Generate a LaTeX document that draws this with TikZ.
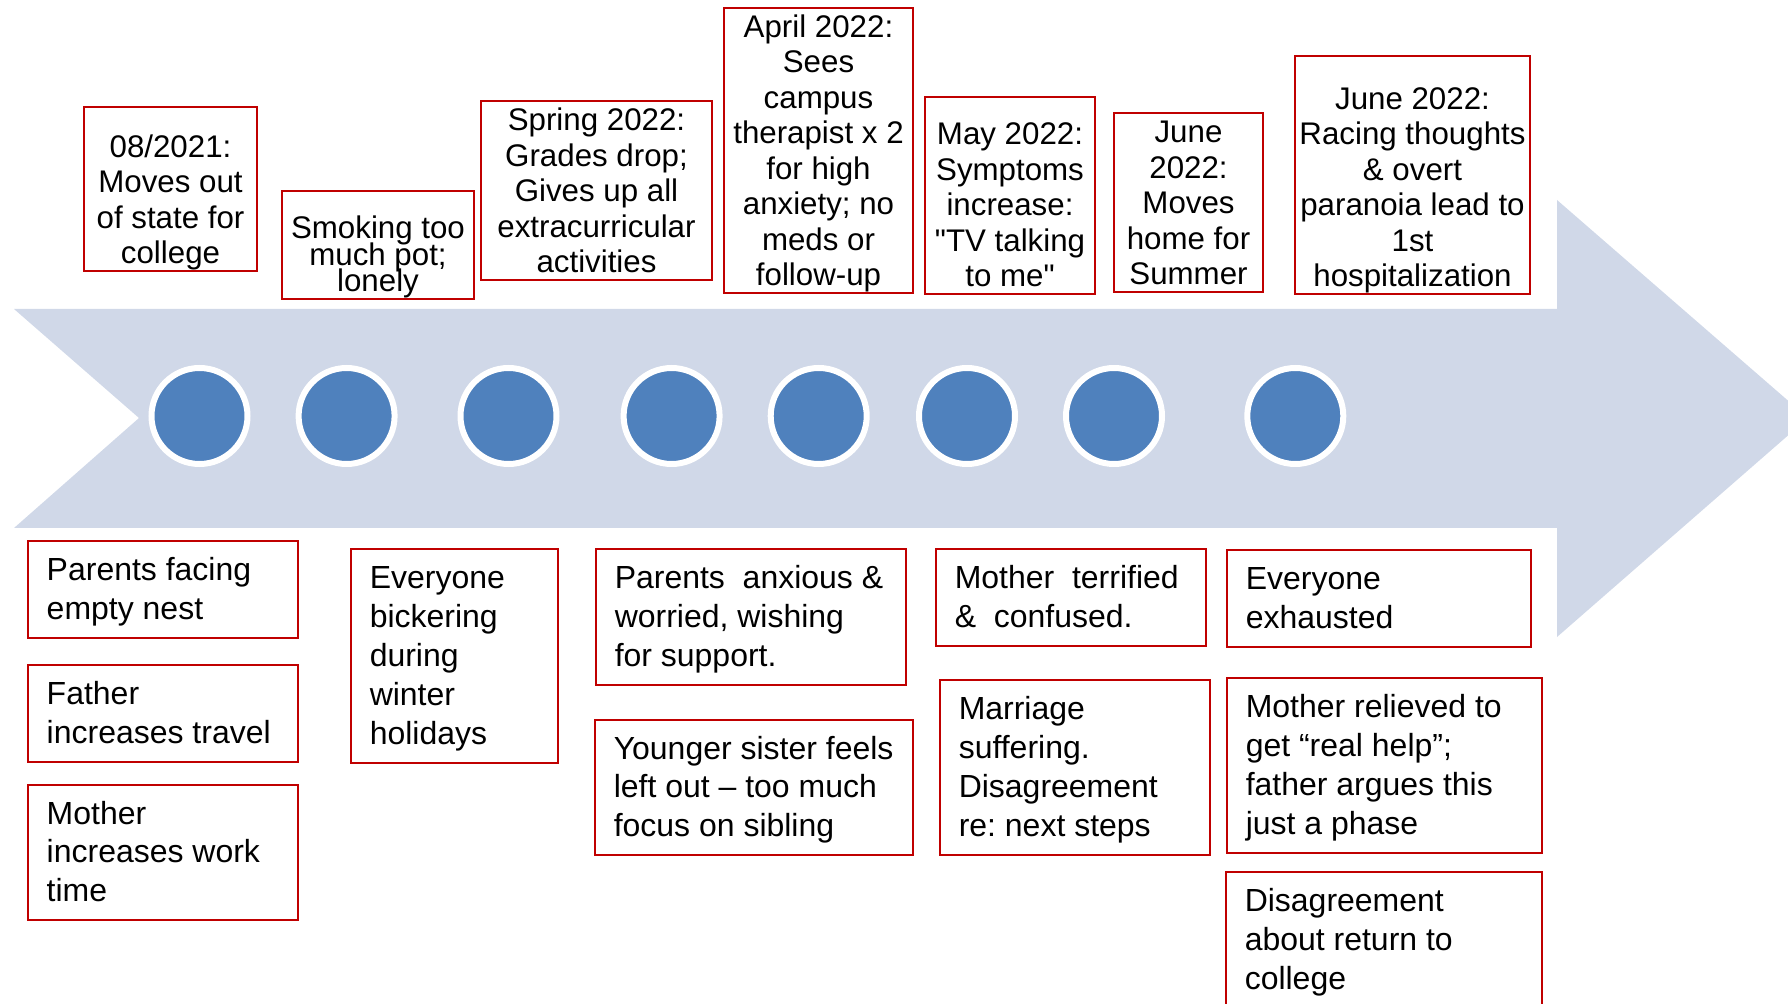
\documentclass[tikz,border=0pt]{standalone}
\usepackage{fontspec}
\setmainfont{Liberation Sans}
\frenchspacing
\definecolor{band}{HTML}{D0D8E8}
\definecolor{dotblue}{HTML}{4F81BD}
\definecolor{edge}{HTML}{C00000}

\begin{document}
\begin{tikzpicture}[x=0.1mm, y=-0.1mm,
  frame/.style={draw=edge, line width=0.25mm},
  evtext/.style={inner sep=0pt, outer sep=0pt, align=center, font={\fontsize{8.9}{10.1}\selectfont\lineskiplimit=-100pt}},
  fxtext/.style={inner sep=0pt, outer sep=0pt, align=left, font={\fontsize{9.1}{11.05}\selectfont\lineskiplimit=-100pt}},
  stopdot/.style={circle, fill=dotblue, draw=white, line width=0.6mm, minimum size=9.6mm, inner sep=0pt}]
\useasboundingbox (0,0) rectangle (1788,1004);
\newcommand{\upcard}[7]{% style, name, left, top, right, bottom, text (sits at the bottom)
  \pgfmathsetlengthmacro{\bw}{(#5-#3)*0.1mm}
  \pgfmathsetlengthmacro{\bh}{(#6-#4)*0.1mm}
  \node[frame, minimum width=\bw, minimum height=\bh] (#2) at ({(#3+#5)/2},{(#4+#6)/2}) {};
  \node[evtext, #1, anchor=south] (#2x) at (#2.south) {#7\rule[-0.27em]{0pt}{0pt}};}
\newcommand{\lowcard}[6]{% name, left, top, right, bottom, text (left, centred)
  \pgfmathsetlengthmacro{\bw}{(#4-#2)*0.1mm}
  \pgfmathsetlengthmacro{\bh}{(#5-#3)*0.1mm}
  \node[frame, minimum width=\bw, minimum height=\bh] (#1) at ({(#2+#4)/2},{(#3+#5)/2}) {};
  \node[fxtext, anchor=west] (#1x) at ([xshift=2mm, yshift=-0.2mm]#1.west) {\rule{0pt}{0.75em}#6\rule[-0.22em]{0pt}{0pt}};}
% the timeline arrow
\fill[band] (14,309) -- (1557,309) -- (1557,200) -- (1808,418) -- (1557,637) -- (1557,528) -- (14,528) -- (139,418) -- cycle;
\foreach \x [count=\i] in {199.5,346.6,508.5,671.6,818.7,967,1114,1295.3}
  \node[stopdot] (d\i) at (\x,416) {};
% events above
\upcard{}{t1}{84}{107}{257}{271}{08/2021:\\Moves out\\of state for\\college}
\upcard{font={\fontsize{8.9}{7.6}\selectfont\lineskiplimit=-100pt}}{t2}{282}{191}{474}{299}{Smoking too\\much pot;\\lonely}
\upcard{}{t3}{481}{101}{712}{280}{Spring 2022:\\Grades drop;\\Gives up all\\extracurricular\\activities}
\upcard{}{t4}{724}{8}{913}{293}{April 2022:\\Sees\\campus\\therapist x 2\\for high\\anxiety; no\\meds or\\follow-up}
\upcard{}{t5}{925}{97}{1095}{294}{May 2022:\\Symptoms\\increase:\\\textquotedbl TV talking\\to me\textquotedbl}
\upcard{}{t6}{1114}{113}{1263}{292}{June\\2022:\\Moves\\home for\\Summer}
\upcard{}{t7}{1295}{56}{1530}{294}{June 2022:\\Racing thoughts\\\& overt\\paranoia lead to\\1st\\hospitalization}
% family reactions below
\lowcard{b1}{28}{541}{298}{638}{Parents facing\\empty nest}
\lowcard{b2}{28}{665}{298}{762}{Father\\increases travel}
\lowcard{b3}{28}{785}{298}{920}{Mother\\increases work\\time}
\lowcard{b4}{351}{549}{558}{763}{Everyone\\bickering\\during\\winter\\holidays}
\lowcard{b5}{596}{549}{906}{685}{Parents\ \ anxious \&\\worried, wishing\\for support.}
\lowcard{b6}{595}{720}{913}{855}{Younger sister feels\\left out – too much\\focus on sibling}
\lowcard{b7}{936}{549}{1206}{646}{Mother\ \ terrified\\\&\ \ confused.}
\lowcard{b8}{940}{680}{1210}{855}{Marriage\\suffering.\\Disagreement\\re: next steps}
\lowcard{b9}{1227}{550}{1531}{647}{Everyone\\exhausted}
\lowcard{b10}{1227}{678}{1542}{853}{Mother relieved to\\get “real help”;\\father argues this\\just a phase}
\lowcard{b11}{1226}{872}{1542}{1008}{Disagreement\\about return to\\college}
\end{tikzpicture}
\end{document}
